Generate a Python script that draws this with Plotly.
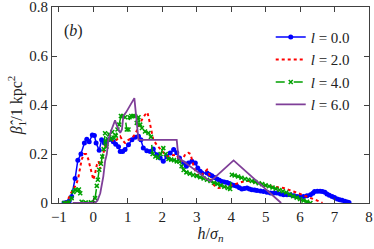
import plotly.graph_objects as go

x_l0 = [-0.85, -0.78, -0.7, -0.63, -0.53, -0.45, -0.36, -0.26, -0.19, -0.12, -0.03, 0.03, 0.08, 0.17, 0.24, 0.32, 0.38, 0.44, 0.5, 0.58, 0.65, 0.73, 0.78, 0.85, 0.92, 1.02, 1.12, 1.21, 1.31, 1.38, 1.45, 1.55, 1.65, 1.74, 1.84, 1.94, 2.03, 2.13, 2.23, 2.33, 2.42, 2.5, 2.62, 2.7, 2.76, 2.86, 2.96, 3.03, 3.1, 3.15, 3.3, 3.37, 3.44, 3.52, 3.59, 3.66, 3.73, 3.8, 3.88, 3.95, 4.02, 4.1, 4.17, 4.24, 4.31, 4.38, 4.46, 4.53, 4.6, 4.68, 4.75, 4.85, 4.94, 5.04, 5.14, 5.24, 5.33, 5.43, 5.52, 5.62, 5.72, 5.82, 5.91, 6.0, 6.1, 6.2, 6.3, 6.37, 6.42, 6.5, 6.58, 6.65, 6.72, 6.78, 6.85, 6.93, 7.0, 7.08, 7.15, 7.22, 7.3, 7.37, 7.42]
y_l0 = [0.0, 0.002, 0.008, 0.027, 0.1, 0.175, 0.2, 0.245, 0.26, 0.25, 0.278, 0.276, 0.245, 0.215, 0.258, 0.245, 0.25, 0.258, 0.26, 0.25, 0.24, 0.23, 0.21, 0.21, 0.218, 0.238, 0.258, 0.268, 0.272, 0.258, 0.224, 0.213, 0.21, 0.22, 0.197, 0.184, 0.17, 0.19, 0.204, 0.218, 0.205, 0.184, 0.163, 0.15, 0.163, 0.17, 0.163, 0.143, 0.13, 0.122, 0.122, 0.116, 0.111, 0.104, 0.098, 0.093, 0.088, 0.086, 0.084, 0.08, 0.075, 0.071, 0.068, 0.062, 0.057, 0.059, 0.061, 0.057, 0.054, 0.053, 0.051, 0.049, 0.047, 0.044, 0.041, 0.041, 0.041, 0.037, 0.034, 0.034, 0.034, 0.03, 0.027, 0.027, 0.027, 0.03, 0.034, 0.04, 0.047, 0.048, 0.048, 0.047, 0.044, 0.037, 0.032, 0.027, 0.022, 0.016, 0.013, 0.011, 0.007, 0.004, 0.002]

x_l2 = [-0.85, -0.75, -0.65, -0.58, -0.5, -0.44, -0.38, -0.34, -0.27, -0.21, -0.15, -0.1, -0.05, 0.0, 0.05, 0.1, 0.15, 0.2, 0.25, 0.3, 0.35, 0.42, 0.48, 0.56, 0.63, 0.7, 0.78, 0.85, 0.92, 1.02, 1.12, 1.21, 1.31, 1.41, 1.5, 1.57, 1.63, 1.67, 1.74, 1.85, 1.99, 2.13, 2.28, 2.42, 2.52, 2.6, 2.67, 2.76, 2.82, 2.91, 3.0, 3.1, 3.2, 3.3, 3.37, 3.44, 3.54, 3.63, 3.75, 3.92, 4.07, 4.22, 4.36, 4.5, 4.7, 4.85, 5.04, 5.3, 5.52, 5.81, 6.1, 6.3, 6.5, 6.65]
y_l2 = [0.0, 0.01, 0.04, 0.054, 0.075, 0.1, 0.14, 0.177, 0.2, 0.2, 0.18, 0.15, 0.12, 0.095, 0.12, 0.155, 0.17, 0.14, 0.18, 0.21, 0.235, 0.25, 0.265, 0.255, 0.25, 0.262, 0.272, 0.255, 0.245, 0.258, 0.265, 0.28, 0.313, 0.34, 0.36, 0.37, 0.333, 0.3, 0.258, 0.235, 0.21, 0.19, 0.195, 0.197, 0.17, 0.18, 0.2, 0.205, 0.2, 0.15, 0.115, 0.109, 0.122, 0.136, 0.115, 0.082, 0.068, 0.061, 0.064, 0.068, 0.075, 0.082, 0.088, 0.09, 0.085, 0.08, 0.07, 0.065, 0.061, 0.047, 0.032, 0.02, 0.01, 0.0]

x_l4 = [-0.85, -0.78, -0.7, -0.63, -0.58, -0.53, -0.47, -0.42, -0.38, -0.34, -0.3, -0.22, -0.15, -0.07, 0.0, 0.05, 0.1, 0.13, 0.17, 0.22, 0.26, 0.3, 0.34, 0.38, 0.42, 0.46, 0.5, 0.55, 0.6, 0.65, 0.7, 0.75, 0.8, 0.86, 0.92, 0.97, 1.02, 1.05, 1.1, 1.16, 1.21, 1.26, 1.31, 1.36, 1.41, 1.5, 1.6, 1.67, 1.72, 1.8, 1.88, 1.95, 2.03, 2.1, 2.18, 2.26, 2.34, 2.42, 2.5, 2.56, 2.62, 2.7, 2.8, 2.9, 3.0, 3.1, 3.2, 3.3, 3.4, 3.5, 3.6, 3.7, 3.8, 3.9, 3.97, 4.02, 4.1, 4.2, 4.3, 4.4, 4.5, 4.6, 4.7, 4.8, 4.9, 5.0, 5.1, 5.2, 5.3, 5.4, 5.5, 5.6, 5.7, 5.8, 5.9, 6.0, 6.1, 6.2, 6.3]
y_l4 = [0.0, 0.0, 0.003, 0.02, 0.045, 0.054, 0.05, 0.055, 0.04, 0.005, 0.0, 0.002, 0.0, 0.003, 0.0, 0.02, 0.07, 0.095, 0.136, 0.16, 0.19, 0.22, 0.285, 0.23, 0.26, 0.28, 0.26, 0.29, 0.265, 0.275, 0.3, 0.32, 0.355, 0.355, 0.35, 0.3, 0.3, 0.35, 0.355, 0.355, 0.354, 0.327, 0.35, 0.32, 0.306, 0.292, 0.286, 0.27, 0.2, 0.19, 0.185, 0.2, 0.224, 0.2, 0.18, 0.177, 0.175, 0.17, 0.168, 0.15, 0.135, 0.125, 0.12, 0.114, 0.11, 0.105, 0.1, 0.095, 0.09, 0.083, 0.078, 0.072, 0.066, 0.061, 0.057, 0.115, 0.112, 0.108, 0.103, 0.098, 0.095, 0.09, 0.086, 0.081, 0.077, 0.072, 0.068, 0.063, 0.058, 0.053, 0.048, 0.043, 0.035, 0.028, 0.022, 0.016, 0.01, 0.005, 0.0]

x_l6 = [-0.6, 0.05, 0.12, 0.2, 0.29, 0.34, 0.39, 0.44, 0.53, 0.63, 0.7, 0.78, 0.83, 0.87, 0.95, 1.19, 1.31, 2.42, 2.47, 3.4, 4.07, 5.45]
y_l6 = [0.0, 0.0, 0.01, 0.04, 0.109, 0.17, 0.2, 0.26, 0.3, 0.337, 0.31, 0.286, 0.3, 0.355, 0.37, 0.428, 0.258, 0.258, 0.185, 0.088, 0.174, 0.0]

x_ticks = [-1, 0, 1, 2, 3, 4, 5, 6, 7, 8]
y_ticks = [0, 0.2, 0.4, 0.6, 0.8]
y_ticktext = ["0", "0.2", "0.4", "0.6", "0.8"]

FONT = "Liberation Serif, Times New Roman, serif"
TXT = "#222222"

fig = go.Figure()
fig.add_trace(go.Scatter(x=x_l0, y=y_l0, mode="lines+markers", name="<i>l</i> = 0.0",
                         line=dict(color="#0000ff", width=1.5),
                         marker=dict(symbol="circle", size=5, color="#0000ff")))
fig.add_trace(go.Scatter(x=x_l2, y=y_l2, mode="lines", name="<i>l</i> = 2.0",
                         line=dict(color="#ff0000", width=2, dash="dot")))
fig.add_trace(go.Scatter(x=x_l4, y=y_l4, mode="lines+markers", name="<i>l</i> = 4.0",
                         line=dict(color="#00a000", width=1.5, dash="dash"),
                         marker=dict(symbol="x-thin", size=4, color="#00a000",
                                     line=dict(color="#00a000", width=1.5))))
fig.add_trace(go.Scatter(x=x_l6, y=y_l6, mode="lines", name="<i>l</i> = 6.0",
                         line=dict(color="#7f3f98", width=1.8)))

axis_common = dict(showline=True, linecolor="#404040", linewidth=1, mirror="ticks",
                   ticks="inside", ticklen=5, tickcolor="#404040", showgrid=False,
                   zeroline=False, automargin=False, ticklabeloverflow="allow",
                   tickfont=dict(family=FONT, size=15, color=TXT))

fig.update_xaxes(range=[-1.2, 8], tickvals=x_ticks, **axis_common,
                 title=dict(text="<i>h</i>/<i>σ<sub>n</sub></i>", font=dict(family=FONT, size=16, color=TXT), standoff=2))
fig.update_yaxes(range=[0, 0.8], tickvals=y_ticks, ticktext=y_ticktext, **axis_common,
                 title=dict(text="<i>β̂</i><sub>1</sub>/1 kpc<sup>2</sup>", font=dict(family=FONT, size=16, color=TXT), standoff=2))

fig.add_annotation(text="(<i>b</i>)", xref="paper", yref="paper", x=0.03, y=0.88,
                   xanchor="left", yanchor="middle", showarrow=False,
                   font=dict(family=FONT, size=16, color=TXT))

fig.update_layout(
    width=374, height=249,
    margin=dict(l=52, r=5, t=7, b=46, autoexpand=False),
    plot_bgcolor="white", paper_bgcolor="white",
    legend=dict(x=0.69, y=0.93, xanchor="left", yanchor="top",
                font=dict(family=FONT, size=15, color=TXT),
                bgcolor="rgba(0,0,0,0)", itemwidth=30, tracegroupgap=0),
)

fig.write_html("out.html", config={"displayModeBar": False},
               post_script="document.body.style.margin='0px';document.body.style.overflow='hidden';")
